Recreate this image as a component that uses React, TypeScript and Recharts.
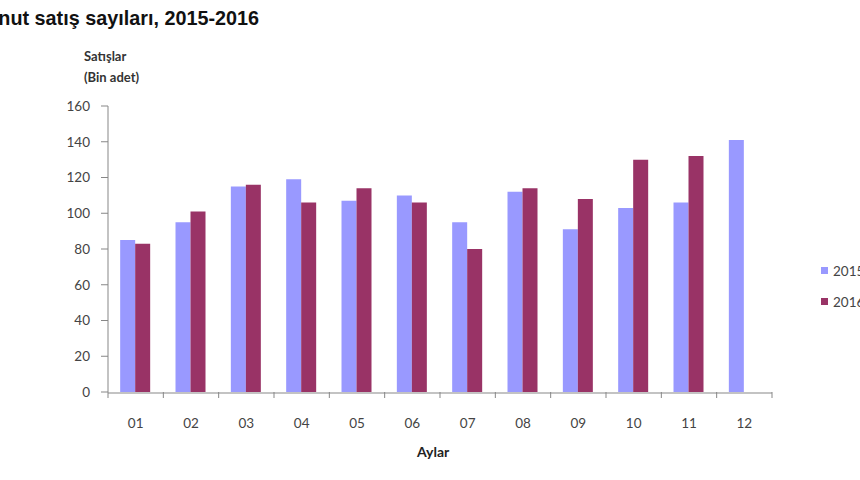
import React from 'react';
import { BarChart, Bar, XAxis, YAxis, Legend } from 'recharts';

const months = ['01', '02', '03', '04', '05', '06', '07', '08', '09', '10', '11', '12'];
const sales2015 = [85, 95, 115, 119, 107, 110, 95, 112, 91, 103, 106, 141];
const sales2016 = [83, 101, 116, 106, 114, 106, 80, 114, 108, 130, 132, null];
const yTicks = [0, 20, 40, 60, 80, 100, 120, 140, 160];
const boundaries = [0, 1, 2, 3, 4, 5, 6, 7, 8, 9, 10, 11, 12];

const C2015 = '#9999ff';
const C2016 = '#993366';
const AXIS = '#878787';

const data = months.map((m, i) => ({
  month: m,
  idx: i + 0.5,
  y2015: sales2015[i],
  y2016: sales2016[i],
}));

const LegendBox = ({ payload }: any) => (
  <div style={{ fontFamily: 'Lato, sans-serif', fontSize: 13.5, color: '#444' }}>
    {(payload || []).map((p: any) => (
      <div key={p.value} style={{ display: 'flex', alignItems: 'center', height: 31, whiteSpace: 'nowrap' }}>
        <span style={{ width: 7, height: 7, background: p.color, display: 'inline-block', marginRight: 5 }} />
        {p.value}
      </div>
    ))}
  </div>
);

export default function App() {
  return (
    <div style={{ position: 'absolute', left: 0, top: 0, width: 860, height: 480, overflow: 'hidden', background: '#fff' }}>
      <div style={{ position: 'absolute', left: -28, top: 7, fontFamily: '"Liberation Sans", Arial, sans-serif', fontWeight: 'bold', fontSize: 19.8, whiteSpace: 'nowrap', color: '#111' }}>
        Konut satış sayıları, 2015-2016
      </div>
      <div style={{ position: 'absolute', left: 84, top: 46, fontFamily: 'Lato, sans-serif', fontWeight: 700, fontSize: 13, lineHeight: '21px', color: '#333' }}>
        Satışlar<br />(Bin adet)
      </div>
      <div style={{ position: 'absolute', left: 417, top: 443, fontFamily: 'Lato, sans-serif', fontWeight: 700, fontSize: 14, color: '#222' }}>
        Aylar
      </div>
      <BarChart
        width={860}
        height={480}
        data={data}
        margin={{ top: 106, right: 8, bottom: 58, left: 48 }}
        barCategoryGap="22%"
        barGap={0}
      >
        <XAxis
          xAxisId="b"
          type="number"
          dataKey="idx"
          domain={[0, 12]}
          ticks={boundaries}
          interval={0}
          tick={() => <g />}
          tickSize={6}
          tickLine={{ stroke: AXIS }}
          axisLine={false}
          height={1}
        />
        <XAxis
          xAxisId="m"
          dataKey="month"
          height={29}
          tickLine={false}
          tickMargin={19}
          axisLine={{ stroke: AXIS }}
          tick={{ fill: '#444', fontSize: 13.5, fontFamily: 'Lato, sans-serif' }}
        />
        <YAxis
          width={60}
          domain={[0, 160]}
          ticks={yTicks}
          interval={0}
          tickSize={7}
          tickMargin={11}
          axisLine={{ stroke: AXIS }}
          tickLine={{ stroke: AXIS }}
          tick={{ fill: '#444', fontSize: 13.5, fontFamily: 'Lato, sans-serif' }}
        />
        <Legend
          layout="vertical"
          align="right"
          verticalAlign="top"
          content={<LegendBox />}
          wrapperStyle={{ left: 821, top: 255, width: 80 }}
        />
        <Bar xAxisId="m" dataKey="y2015" name="2015" fill={C2015} isAnimationActive={false} />
        <Bar xAxisId="m" dataKey="y2016" name="2016" fill={C2016} isAnimationActive={false} />
      </BarChart>
    </div>
  );
}
